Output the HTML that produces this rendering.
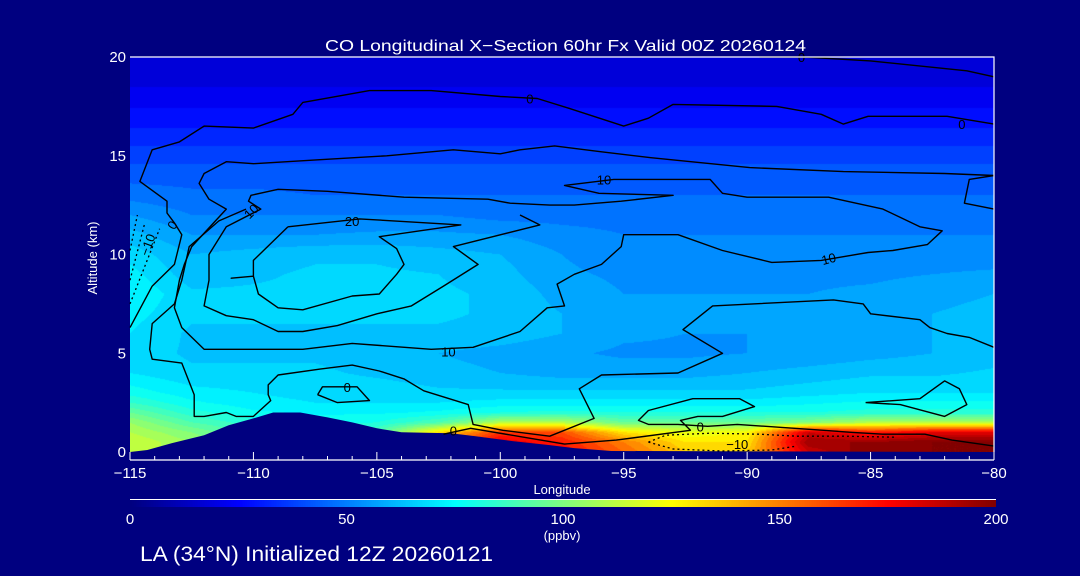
<!DOCTYPE html>
<html><head><meta charset="utf-8">
<style>
html,body{margin:0;padding:0;background:#000080;}
#wrap{position:relative;width:1080px;height:576px;background:#000080;overflow:hidden;font-family:"Liberation Sans",sans-serif;}
canvas{position:absolute;}
svg{position:absolute;left:0;top:0;}
</style></head>
<body>
<div id="wrap">
<canvas id="field" width="864" height="395" style="left:130px;top:57px"></canvas>
<canvas id="cbar" width="866" height="7" style="left:130px;top:500px"></canvas>
<svg id="ov" width="1080" height="576" viewBox="0 0 1080 576"></svg>
</div>
<script>
// ---- data ----
const lons = [-115,-112.5,-110,-107.5,-105,-102.5,-100,-97.5,-95,-92.5,-90,-87.5,-85,-82.5,-80];
const alts = [0,0.5,1,1.5,2,2.5,3,4,5,6,7,8,9,10,11,12,13,14,15,16,17,18,19,20];
const co = [
[115,105,95,90,100,155,185,175,155,135,135,185,200,200,200],
[115,105,95,90,100,150,180,170,150,130,130,195,195,200,200],
[110,100,88,85,90,130,165,160,130,120,125,185,170,180,180],
[105,90,82,78,80,90,110,110,95,95,95,100,110,110,110],
[95,82,76,74,74,76,80,82,80,80,80,80,82,82,82],
[85,76,72,70,70,70,72,72,72,72,72,74,76,76,76],
[78,72,70,68,68,66,66,66,66,66,66,68,70,70,70],
[70,66,66,66,64,62,60,58,58,58,60,62,64,64,66],
[68,64,64,64,62,60,58,56,54,54,55,56,58,60,62],
[70,64,64,64,64,64,63,60,56,55,55,56,58,60,62],
[72,66,66,66,66,66,64,60,56,56,56,57,58,60,62],
[75,66,66,66,66,66,64,58,55,55,55,55,56,58,60],
[72,62,64,66,66,65,62,56,54,54,54,54,54,55,56],
[68,60,62,64,64,62,60,55,52,52,52,52,52,52,52],
[62,55,55,55,56,56,55,52,50,50,50,50,50,50,50],
[55,50,50,50,50,50,48,48,48,48,48,48,48,48,48],
[48,46,46,45,45,45,45,45,45,45,45,45,45,45,45],
[43,43,43,43,43,43,43,43,43,43,43,43,43,43,43],
[38,38,38,38,38,38,38,38,38,38,38,38,38,38,38],
[32,32,32,32,32,32,32,32,32,32,32,32,32,32,32],
[27,27,27,27,27,27,27,27,27,27,27,27,27,27,27],
[22,22,22,22,22,22,22,22,22,22,22,22,22,22,22],
[18,18,18,18,18,18,18,18,18,18,18,18,18,18,18],
[15,15,15,15,15,15,15,15,15,15,15,15,15,15,15]];
const terrainLon = [-115,-114.3,-113.3,-112,-111,-110,-109.2,-108.1,-107,-106,-105,-104,-102,-101,-99.5,-98,-97,-95.5,-80];
const terrainAlt = [0,0.1,0.45,0.85,1.35,1.7,2.0,2.0,1.75,1.5,1.2,1.0,0.95,0.8,0.55,0.35,0.2,0.05,0];
const contourTop = [[-115,6.3],[-114.1,8.4],[-113.2,9.5],[-112.9,11.0],[-113.2,11.6],[-113.5,12.1],[-113.5,12.7],[-114.6,13.7],[-114.1,15.3],[-113,15.7],[-112,16.5],[-110,16.4],[-108.4,17.1],[-108,17.7],[-105.3,18.3],[-102.8,18.3],[-100,18.0],[-98.5,17.9],[-97.2,17.4],[-95,16.5],[-94,16.9],[-93,17.6],[-88.8,17.5],[-87,17.1],[-86.1,16.6],[-85.1,17.0],[-81.9,17.0],[-80,16.6]];
const contourTop2 = [[-89.5,20.0],[-87.7,20.0],[-85,19.8],[-81.1,19.3],[-80,19.0]];
const contourBig10 = [[-80,14.0],[-82,14.1],[-86.1,14.2],[-89.9,14.4],[-93.9,14.9],[-95.9,15.2],[-97.8,15.5],[-99.2,15.3],[-100,15.1],[-101.9,15.3],[-104.6,15.0],[-107.3,14.8],[-110,14.6],[-111.1,14.7],[-112,14.1],[-112.2,13.6],[-111.8,12.8],[-111.1,12.3],[-112.5,10.4],[-112.8,9.5],[-113,8.7],[-113.2,7.3],[-112.9,6.3],[-112,5.2],[-110,5.2],[-108,5.2],[-106,5.5],[-102.8,5.2],[-101.1,5.3],[-99.2,6.1],[-98.1,7.3],[-97.4,7.4],[-97.7,8.5],[-97,9.0],[-95.9,9.5],[-95.1,10.4],[-95,11.0],[-92.8,11.0],[-91,10.2],[-89,9.6],[-87,9.7],[-85.1,10.1],[-84.1,10.2],[-82.7,10.5],[-82.1,11.2],[-83,11.4],[-84.5,12.3],[-86.7,12.9],[-90,12.9],[-91,13.1],[-91.5,13.8],[-95.4,13.8],[-97.4,13.5],[-96,13.1],[-93,13.0],[-95.1,12.7],[-97,12.5],[-98,12.5],[-99.6,12.6],[-100.5,12.8],[-103.9,12.9],[-107,13.2],[-109,13.3],[-110.1,13.0],[-110.2,12.7],[-109.7,12.3],[-111.1,11.4],[-111.8,10.0],[-111.8,8.7],[-112,7.4],[-111.1,6.9],[-110,6.7],[-109,6.1],[-108,6.1],[-106.6,6.4],[-105,7.0],[-103.6,7.4],[-102.3,8.4],[-100.9,9.5],[-101.9,10.4],[-98.4,11.5],[-99.2,12.0]];
const contourEdge = [[-80,14.0],[-81,13.8],[-81.2,12.6],[-80,12.3]];
const contour20 = [[-108.6,11.4],[-110,9.7],[-110,8.9],[-110.9,8.8],[-110,8.9],[-109.8,8.0],[-109,7.3],[-108,7.2],[-106,7.9],[-104.9,8.0],[-104.2,9.0],[-103.9,9.5],[-104.2,10.3],[-104.9,10.9],[-101.6,11.5],[-105.7,11.8],[-108.6,11.4]];
const contourLow = [[-110.3,12.3],[-111.4,11.7],[-112.6,10.4],[-112.9,8.7],[-113.2,7.5],[-114.1,6.5],[-114.2,5.2],[-114.1,4.7],[-112.9,4.5],[-112.4,2.9],[-112.4,1.8],[-112,1.8],[-111.1,2.0],[-110.7,1.8],[-110,1.8],[-109.3,2.6],[-109.4,2.9],[-109.4,3.4],[-109,3.9],[-107.3,4.2],[-106,4.4],[-104.9,4.1],[-103.9,3.7],[-103.1,3.1],[-101.3,2.4],[-101.1,1.4],[-99.9,1.1],[-98,0.8],[-96.2,1.7],[-96.8,3.2],[-95.9,3.9],[-92.8,4.0],[-91,5.0],[-92.6,6.2],[-91.4,7.4],[-86.5,7.7],[-85.3,7.5],[-85,7.0],[-83,6.7],[-82.6,6.3],[-81.9,6.0],[-81,5.8],[-80,5.3]];
const contourSmall0 = [[-107.4,2.9],[-107.2,3.3],[-106.5,3.3],[-105.8,3.3],[-105.3,2.6],[-106.6,2.5],[-107.4,2.9]];
const contourSurface = [[-102.3,0.9],[-101.2,1.2],[-97.4,0.4],[-95.3,0.6],[-92.3,1.1],[-92.7,1.6],[-92,1.8],[-91,1.8],[-89.7,2.3],[-90.3,2.7],[-92.2,2.7],[-94,2.1],[-94.4,1.6],[-94,1.4],[-92.8,1.4],[-91.6,1.3],[-90.4,1.4],[-86.9,1.1],[-85.8,1.0],[-84.5,0.9],[-82.8,0.9],[-81.7,0.6],[-80,0.3]];
const contourDiamond = [[-85.2,2.5],[-83,2.7],[-82,3.6],[-81.4,3.2],[-81.1,2.4],[-82,1.8],[-83.8,2.4],[-85.2,2.5]];
const contourNeg1 = [[-94,0.5],[-93.3,0.85],[-91.5,0.95],[-89.5,0.9],[-88,0.8],[-86,0.8],[-84,0.75]];
const contourNeg2 = [[-94,0.5],[-93,0.15],[-91,0.05],[-89,0.1],[-88,0.3]];
const contourNeg3 = [[-115,7.5],[-113.8,11.3]];
const contourNeg4 = [[-115,8.7],[-114.4,11.6]];
const contourNeg5 = [[-115,10.2],[-114.7,12.0]];
const labelText = ["0","0","10","20","10","10","10","0","0","0","\u221210","0","0","\u221210"];
const labelLon = [-98.8,-81.3,-95.8,-106.0,-110.1,-102.1,-86.7,-106.2,-101.9,-91.9,-90.4,-87.8,-113.3,-114.3];
const labelAlt = [17.9,16.6,13.8,11.7,12.2,5.1,9.8,3.3,1.1,1.3,0.4,20.0,11.5,10.5];
const labelRot = [0,0,0,0,-45,0,-15,0,0,0,0,0,-60,-70];
const xTicks = [-115,-110,-105,-100,-95,-90,-85,-80];
const yTicks = [0,5,10,15,20];
const cbTicks = [0,50,100,150,200];

// ---- axes ----
const X0=130,X1=994,Y0=452,Y1=57;
const xs = lon => X0 + (lon+115)/35*(X1-X0);
const ys = a => Y0 - a/20*(Y0-Y1);
function jet(v){const t=Math.max(0,Math.min(1,v/200));
 const c=x=>Math.round(255*Math.max(0,Math.min(1,x)));
 return [c(1.5-Math.abs(4*t-3)),c(1.5-Math.abs(4*t-2)),c(1.5-Math.abs(4*t-1))];}
function sample(lon,a){
 let i=0;while(i<lons.length-2&&lon>lons[i+1])i++;
 let j=0;while(j<alts.length-2&&a>alts[j+1])j++;
 const fx=Math.max(0,Math.min(1,(lon-lons[i])/(lons[i+1]-lons[i])));
 const fy=Math.max(0,Math.min(1,(a-alts[j])/(alts[j+1]-alts[j])));
 const v00=co[j][i],v10=co[j][i+1],v01=co[j+1][i],v11=co[j+1][i+1];
 return v00*(1-fx)*(1-fy)+v10*fx*(1-fy)+v01*(1-fx)*fy+v11*fx*fy;}
(function(){const cv=document.getElementById('field'),ctx=cv.getContext('2d');
 const W=cv.width,H=cv.height,img=ctx.createImageData(W,H);
 for(let py=0;py<H;py++){const a=(Y0-(Y1+py+0.5))/(Y0-Y1)*20;
  for(let px=0;px<W;px++){const lon=-115+(px+0.5)/W*35;
   let v=sample(lon,a);v=Math.floor(v/5)*5+2.5;const c=jet(v);const k=(py*W+px)*4;
   img.data[k]=c[0];img.data[k+1]=c[1];img.data[k+2]=c[2];img.data[k+3]=255;}}
 ctx.putImageData(img,0,0);})();
(function(){const cv=document.getElementById('cbar'),ctx=cv.getContext('2d');
 for(let px=0;px<cv.width;px++){const c=jet(px/cv.width*200);ctx.fillStyle=`rgb(${c[0]},${c[1]},${c[2]})`;ctx.fillRect(px,0,1,cv.height);}})();

const NS='http://www.w3.org/2000/svg',svg=document.getElementById('ov');
function mk(tag,attrs,parent){const e=document.createElementNS(NS,tag);for(const k in attrs)e.setAttribute(k,attrs[k]);(parent||svg).appendChild(e);return e;}
function txt(s,x,y,size,anchor,fill,parent){const t=mk('text',{x:x,y:y,'font-size':size,'text-anchor':anchor,fill:fill,'font-family':'Liberation Sans, sans-serif'},parent);t.textContent=s;return t;}
const pts = arr => arr.map(p=>xs(p[0]).toFixed(1)+','+ys(p[1]).toFixed(1)).join(' ');

let tp=terrainLon.map((l,i)=>xs(l).toFixed(1)+','+ys(terrainAlt[i]).toFixed(1)).join(' ');
tp+=` ${X1},${Y0+1} ${X0},${Y0+1}`;
const terr=mk('polygon',{points:tp,fill:'#000080'});



const solid=[['contour-top-0',contourTop],['contour-top-edge-0',contourTop2],['contour-10-main',contourBig10],['contour-10-edge',contourEdge],['contour-20',contour20],['contour-low',contourLow],['contour-small-0',contourSmall0],['contour-surface-0',contourSurface],['contour-diamond',contourDiamond]];
solid.forEach(s=>{const e=mk('polyline',{points:pts(s[1]),fill:'none',stroke:'#000','stroke-width':1.4,'stroke-linejoin':'round'});
 
 });
const dotted=[['contour-neg10-top',contourNeg1],['contour-neg10-bottom',contourNeg2],['contour-neg-left-1',contourNeg3],['contour-neg-left-2',contourNeg4],['contour-neg-left-3',contourNeg5]];
dotted.forEach(s=>{const e=mk('polyline',{points:pts(s[1]),fill:'none',stroke:'#000','stroke-width':1.3,'stroke-dasharray':'2,3'});
 
 });
labelText.forEach((s,i)=>{const x=xs(labelLon[i]),y=ys(labelAlt[i]);
 const t=txt(s,x,y+5,13,'middle','#000');
 if(labelRot[i])t.setAttribute('transform',`rotate(${labelRot[i]} ${x} ${y})`);
 
 });

const fr=mk('polyline',{points:`${X0},${Y1} ${X1},${Y1} ${X1},${Y0}`,fill:'none',stroke:'#fff','stroke-width':1.2});


const ax=mk('line',{x1:X0,y1:460,x2:X1,y2:460,stroke:'#fff','stroke-width':1.2});


for(let l=-115;l<=-80;l++){const major=(l%5===0);
 const t=mk('line',{x1:xs(l),y1:460,x2:xs(l),y2:major?452:456,stroke:'#fff','stroke-width':1});
 
 }
xTicks.forEach(l=>{const t=txt('\u2212'+Math.abs(l),xs(l),478,15,'middle','#fff');
 
 });
yTicks.forEach(a=>{const t=txt(String(a),126,ys(a)+5,15,'end','#fff');
 
 });
const xt=txt('Longitude',562,494,13,'middle','#fff');


const yt=txt('Altitude (km)',0,0,13,'middle','#fff');
yt.setAttribute('transform','translate(97,258) rotate(-90)');


const tt=txt('CO Longitudinal X\u2212Section 60hr  Fx Valid 00Z 20260124',325,51,16,'start','#fff');
tt.setAttribute('textLength','481');
tt.setAttribute('lengthAdjust','spacingAndGlyphs');
tt.setAttribute('xml:space','preserve');


const cbl=mk('line',{x1:130,y1:499.5,x2:996,y2:499.5,stroke:'#fff','stroke-width':1});


cbTicks.forEach(v=>{const t=txt(String(v),130+v/200*866,524,15,'middle','#fff');
 
 });
const un=txt('(ppbv)',562,540,13,'middle','#fff');


const ft=txt('LA (34\u00B0N) Initialized 12Z 20260121',140,561,21,'start','#fff');
ft.setAttribute('textLength','353');
ft.setAttribute('lengthAdjust','spacingAndGlyphs');


</script>
</body></html>
